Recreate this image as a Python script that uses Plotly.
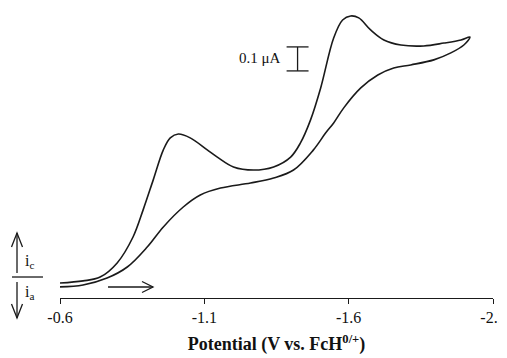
import plotly.graph_objects as go

# Forward (cathodic) sweep
fwd_potential = [-0.600, -0.680, -0.739, -0.798, -0.853, -0.888, -0.923, -0.958, -0.982, -1.010,
                 -1.051, -1.110, -1.145, -1.201, -1.270, -1.340, -1.399, -1.433, -1.468, -1.503,
                 -1.548, -1.579, -1.607, -1.635, -1.676, -1.722, -1.781, -1.860, -1.930, -1.989, -2.020]
fwd_current = [0.008, 0.017, 0.033, 0.092, 0.200, 0.313, 0.438, 0.563, 0.613, 0.629,
               0.613, 0.563, 0.533, 0.492, 0.479, 0.492, 0.533, 0.592, 0.688, 0.821,
               1.029, 1.104, 1.121, 1.113, 1.063, 1.021, 1.000, 0.996, 1.008, 1.021, 1.033]

# Return (anodic) sweep
rev_potential = [-2.020, -1.999, -1.954, -1.895, -1.815, -1.756, -1.701, -1.642, -1.583, -1.548,
                 -1.520, -1.478, -1.409, -1.340, -1.260, -1.156, -1.086, -1.027, -0.958, -0.902,
                 -0.833, -0.763, -0.680, -0.600]
rev_current = [1.033, 1.000, 0.967, 0.938, 0.917, 0.904, 0.875, 0.821, 0.738, 0.675,
               0.633, 0.563, 0.479, 0.446, 0.425, 0.404, 0.375, 0.325, 0.242, 0.158,
               0.075, 0.029, 0.000, -0.008]

tick_vals = [-0.6, -1.1, -1.6, -2.1]
tick_text = ["-0.6", "-1.1", "-1.6", "-2.1"]

FONT = "Liberation Serif, Times New Roman, serif"
LINE = "#1a1a1a"

# page body has an 8px margin: figure sized/positioned to compensate
OFF = 8
W, H = 507 - OFF, 358 - OFF
ML, MR, MT, MB = 52, 14, 2, 60
PW, PH = W - ML - MR, H - MT - MB


def X(px):  # screen pixel -> paper
    return (px - OFF - ML) / PW


def Y(py):
    return (H - MB - (py - OFF)) / PH


fig = go.Figure()
fig.add_trace(go.Scatter(x=fwd_potential + rev_potential[1:],
                         y=fwd_current + rev_current[1:],
                         mode="lines", line=dict(color=LINE, width=1.6, shape="spline", smoothing=1.0),
                         showlegend=False, hoverinfo="skip"))

shapes = []
# scale bar 0.1 uA
bar_x, bar_y0, bar_y1, cap = -1.423, 0.892, 0.992, 0.038
shapes.append(dict(type="line", xref="x", yref="y", x0=bar_x, x1=bar_x, y0=bar_y0, y1=bar_y1,
                   line=dict(color=LINE, width=1.3)))
for yy in (bar_y0, bar_y1):
    shapes.append(dict(type="line", xref="x", yref="y", x0=bar_x - cap, x1=bar_x + cap, y0=yy, y1=yy,
                       line=dict(color=LINE, width=1.3)))


def path(points):
    return "M " + " L ".join(f"{X(a):.4f},{Y(b):.4f}" for a, b in points)


pstyle = dict(type="path", xref="paper", yref="paper", line=dict(color=LINE, width=1.3))
# up arrow (ic)
shapes.append(dict(path=path([(17, 273), (17, 233)]), **pstyle))
shapes.append(dict(path=path([(11.5, 247), (17, 233), (22.5, 247)]), **pstyle))
# down arrow (ia)
shapes.append(dict(path=path([(17, 282), (17, 318)]), **pstyle))
shapes.append(dict(path=path([(11.5, 304), (17, 318), (22.5, 304)]), **pstyle))
# divider
shapes.append(dict(path=path([(12, 277), (43, 277)]), **pstyle))
# sweep direction arrow
shapes.append(dict(path=path([(108, 287), (153, 287)]), **pstyle))
shapes.append(dict(path=path([(142, 281.5), (153, 287), (142, 292.5)]), **pstyle))

annotations = [
    dict(x=-1.374, y=0.944, xref="x", yref="y", text="0.1 \u03bcA", showarrow=False,
         xanchor="right", yanchor="middle", font=dict(family=FONT, size=15, color="#111")),
    dict(x=X(23), y=Y(261), xref="paper", yref="paper", text="i<sub>c</sub>", showarrow=False,
         xanchor="left", yanchor="middle", font=dict(family=FONT, size=16, color="#111")),
    dict(x=X(23), y=Y(292), xref="paper", yref="paper", text="i<sub>a</sub>", showarrow=False,
         xanchor="left", yanchor="middle", font=dict(family=FONT, size=16, color="#111")),
]

fig.update_layout(
    width=W, height=H,
    margin=dict(l=ML, r=MR, t=MT, b=MB, autoexpand=False),
    paper_bgcolor="white", plot_bgcolor="white",
    shapes=shapes, annotations=annotations,
    xaxis=dict(range=[-0.6, -2.1], tickvals=tick_vals, ticktext=tick_text,
               showgrid=False, zeroline=False, showline=True, linecolor=LINE, linewidth=1.3,
               ticks="outside", ticklen=5, tickcolor=LINE, tickwidth=1.3, automargin=False,
               ticklabeloverflow="allow",
               tickfont=dict(family=FONT, size=16, color="#111"),
               title=dict(text="<b>Potential (V vs. FcH<sup>0/+</sup>)</b>", standoff=12,
                          font=dict(family=FONT, size=18, color="#111"))),
    yaxis=dict(range=[-0.0542, 1.1458], visible=False),
)

fig.write_html("out.html")
